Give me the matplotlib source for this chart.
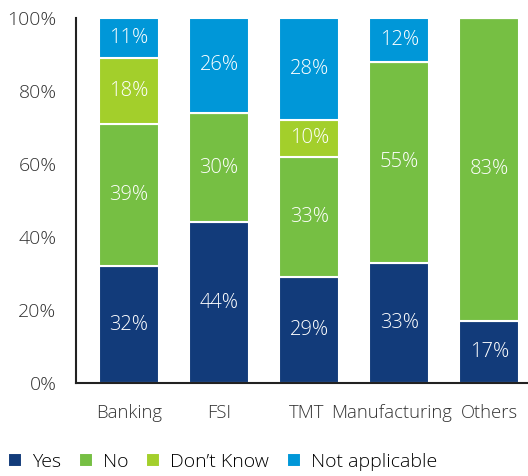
import matplotlib

matplotlib.use("Agg")
import matplotlib.pyplot as plt
import numpy as np
from matplotlib.ticker import PercentFormatter
from matplotlib.transforms import ScaledTranslation

plt.rcParams.update({
    "font.family": ["Open Sans", "DejaVu Sans"],
    "font.weight": "light",
    "font.size": 14,
})

CATEGORIES = ["Banking", "FSI", "TMT", "Manufacturing", "Others"]
SERIES = ["Yes", "No", "Don\u2019t Know", "Not applicable"]
YES = [32, 44, 29, 33, 17]
NO = [39, 30, 33, 55, 83]
DONT_KNOW = [18, 0, 10, 0, 0]
NOT_APPLICABLE = [11, 26, 28, 12, 0]
COLORS = ["#123b7a", "#76bf43", "#a3cf2b", "#0097d8"]

fig = plt.figure(figsize=(5.28, 4.76), dpi=100)
ax = fig.add_axes([76 / 528, (476 - 383) / 476, (528 - 76) / 528, 365 / 476])

x = np.arange(len(CATEGORIES))
bottom = np.zeros(len(CATEGORIES))
for name, vals, color in zip(SERIES, [YES, NO, DONT_KNOW, NOT_APPLICABLE], COLORS):
    vals = np.array(vals, dtype=float)
    ax.bar(x, vals, 0.67, bottom=bottom, color=color, edgecolor="white",
           linewidth=1.5, label=name)
    for xi, b, v in zip(x, bottom, vals):
        if v > 0:
            ax.text(xi, b + v / 2, f"{v:.0f}%", ha="center", va="center",
                    color="white", fontsize=14.5)
    bottom += vals

ax.set_xlim(-0.59, 4.43)
ax.set_ylim(0, 100)
ax.set_yticks(range(0, 101, 20))
ax.yaxis.set_major_formatter(PercentFormatter(decimals=0))
ax.set_xticks(x)
ax.set_xticklabels(CATEGORIES)
ax.tick_params(length=0, labelsize=14, colors="#333333")
ax.tick_params(axis="x", pad=15, labelsize=13.3)
ax.tick_params(axis="y", pad=14)
# nudge the crowded labels so "TMT", "Manufacturing" and "Others" do not collide
lbls = ax.get_xticklabels()
lbls[2].set_transform(lbls[2].get_transform() + ScaledTranslation(-0.03, 0, fig.dpi_scale_trans))
lbls[3].set_transform(lbls[3].get_transform() + ScaledTranslation(-0.08, 0, fig.dpi_scale_trans))
for s in ["top", "right"]:
    ax.spines[s].set_visible(False)
for s in ["left", "bottom"]:
    ax.spines[s].set_color("#222222")
    ax.spines[s].set_linewidth(1.5)

ax.legend(loc="upper left", bbox_to_anchor=(-76 / 452, -0.17), ncol=4,
          frameon=False, handlelength=0.75, handleheight=0.75,
          handletextpad=0.5, columnspacing=0.9, fontsize=14, borderaxespad=0)

fig.savefig("out.png", dpi=100)
